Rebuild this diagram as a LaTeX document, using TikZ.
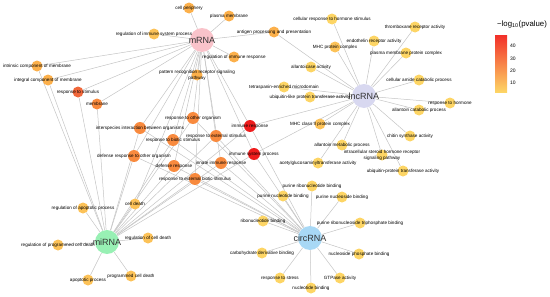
\documentclass[tikz,border=0pt]{standalone}
\usepackage{fontspec}
\setmainfont{Liberation Sans}
\usetikzlibrary{backgrounds}

\definecolor{mrnacol}{HTML}{F9C3CA}
\definecolor{lnccol}{HTML}{D8D8F0}
\definecolor{mircol}{HTML}{98F0B4}
\definecolor{circcol}{HTML}{A8D8F5}
\definecolor{ylw}{HTML}{FDD565}
\definecolor{ylo}{HTML}{FCC258}
\definecolor{lor}{HTML}{FCB04B}
\definecolor{org}{HTML}{F88A3E}
\definecolor{dor}{HTML}{F0673A}
\definecolor{rd}{HTML}{EE1C1C}
\definecolor{linkcol}{HTML}{C4C4C4}
\definecolor{lgtop}{HTML}{F2302A}

\tikzset{
  term/.style={circle, inner sep=0pt, minimum size=11pt, fill=#1},
  hub/.style={circle, inner sep=0pt, minimum size=24pt, fill=#1},
  lbl/.style={font=\fontsize{4.6}{6}\selectfont, align=center, inner sep=0pt},
  hublbl/.style={font=\fontsize{9}{10}\selectfont, text=black!80, inner sep=0pt},
  link/.style={draw=linkcol, line width=0.5pt},
  ticklbl/.style={font=\fontsize{5}{6}\selectfont, anchor=west, inner sep=0pt},
}

\begin{document}
\begin{tikzpicture}[x=1pt,y=-1pt]
\useasboundingbox (0,0) rectangle (550,297);
% hubs
\node[hub=mrnacol, label={[hublbl]center:mRNA}] (mrna) at (202,40) {};
\node[hub=lnccol, label={[hublbl]center:lncRNA}] (lnc) at (364,96) {};
\node[hub=mircol, label={[hublbl]center:miRNA}] (mir) at (107,242) {};
\node[hub=circcol, label={[hublbl]center:circRNA}] (circ) at (310,238) {};

% mRNA terms
\node[term=lor, label={[lbl]center:cell periphery}] (cp) at (189,8) {};
\node[term=lor, label={[lbl]center:plasma membrane}] (pm) at (229,16) {};
\node[term=ylo, label={[lbl]center:regulation of immune system process}] (ris) at (154,34) {};
\node[term=lor, label={[lbl]center:antigen processing and presentation}] (ap) at (274,32) {};
\node[term=lor, label={[lbl]center:regulation of immune response}] (rir) at (234,57) {};
\node[term=lor, label={[lbl]center:pattern recognition receptor signaling\\pathway}] (prr) at (197,75) {};
\node[term=lor, label={[lbl]center:intrinsic component of membrane}] (icm) at (37,66) {};
\node[term=lor, label={[lbl]center:integral component of membrane}] (igm) at (48,80) {};
\node[term=dor, label={[lbl]center:response to stimulus}] (rs) at (78,92) {};
\node[term=org, label={[lbl]center:membrane}] (mem) at (97,104) {};

% shared terms
\node[term=org, minimum size=12pt, label={[lbl]center:response to other organism}] (roo) at (193,118) {};
\node[term=org, minimum size=12pt, label={[lbl]center:interspecies interaction between organisms}] (iib) at (140,128) {};
\node[term=org, minimum size=12pt, label={[lbl]center:response to biotic stimulus}] (rbs) at (173,140) {};
\node[term=org, minimum size=12pt, label={[lbl]center:response to external stimulus}] (res) at (216,136) {};
\node[term=org, minimum size=12pt, label={[lbl]center:defense response to other organism}] (droo) at (134,156) {};
\node[term=org, minimum size=12pt, label={[lbl]center:defense response}] (dr) at (174,166) {};
\node[term=org, minimum size=12pt, label={[lbl]center:innate immune response}] (iir) at (221,163) {};
\node[term=org, minimum size=12pt, label={[lbl]center:response to external biotic stimulus}] (rebs) at (195,179) {};
\node[term=rd, minimum size=12pt, label={[lbl]center:immune response}] (ir) at (250,126) {};
\node[term=rd, minimum size=12pt, label={[lbl]center:immune system process}] (isp) at (254,154) {};

% lncRNA terms
\node[term=ylw, label={[lbl]center:cellular response to hormone stimulus}] (crh) at (332,19) {};
\node[term=ylo, label={[lbl]center:MHC protein complex}] (mhc) at (335,47) {};
\node[term=ylw, label={[lbl]center:endothelin receptor activity}] (era) at (374,41) {};
\node[term=ylw, label={[lbl]center:thromboxane receptor activity}] (tra) at (415,27) {};
\node[term=ylw, label={[lbl]center:plasma membrane protein complex}] (pmpc) at (406,53) {};
\node[term=ylw, label={[lbl]center:cellular amide catabolic process}] (cacp) at (419,80) {};
\node[term=ylw, label={[lbl]center:allantoicase activity}] (aca) at (311,67) {};
\node[term=ylw, label={[lbl]center:tetraspanin-enriched microdomain}] (tem) at (284,87) {};
\node[term=ylw, label={[lbl]center:ubiquitin-like protein transferase activity}] (ulp) at (310,97) {};
\node[term=ylw, label={[lbl]center:response to hormone}] (rh) at (450,103) {};
\node[term=ylw, label={[lbl]center:allantoin catabolic process}] (alc) at (419,110) {};
\node[term=ylw, label={[lbl]center:chitin synthase activity}] (csa) at (410,136) {};
\node[term=ylo, label={[lbl]center:MHC class II protein complex}] (mhctwo) at (320,124) {};
\node[term=ylw, label={[lbl]center:allantoin metabolic process}] (alm) at (342,145) {};
\node[term=ylw, label={[lbl]center:intracellular steroid hormone receptor\\signaling pathway}] (isr) at (382,155) {};
\node[term=ylw, label={[lbl]center:acetylglucosaminyltransferase activity}] (aga) at (318,163) {};
\node[term=ylw, label={[lbl]center:ubiquitin-protein transferase activity}] (upt) at (403,171) {};

% miRNA terms
\node[term=ylo, label={[lbl]center:regulation of apoptotic process}] (rap) at (83,208) {};
\node[term=ylo, label={[lbl]center:cell death}] (cd) at (135,204) {};
\node[term=ylo, label={[lbl]center:regulation of programmed cell death}] (rpcd) at (58,245) {};
\node[term=ylo, label={[lbl]center:regulation of cell death}] (rcd) at (148,238) {};
\node[term=ylo, label={[lbl]center:apoptotic process}] (app) at (88,280) {};
\node[term=ylo, label={[lbl]center:programmed cell death}] (pcd) at (131,276) {};

% circRNA terms
\node[term=ylw, label={[lbl]center:purine ribonucleotide binding}] (prb) at (312,186) {};
\node[term=ylw, label={[lbl]center:purine nucleotide binding}] (pnb) at (283,196) {};
\node[term=ylw, label={[lbl]center:purine nucleoside binding}] (pnsb) at (342,197) {};
\node[term=ylw, label={[lbl]center:ribonucleotide binding}] (rnb) at (263,221) {};
\node[term=ylw, label={[lbl]center:purine ribonucleoside triphosphate binding}] (prtb) at (360,223) {};
\node[term=ylw, label={[lbl]center:carbohydrate derivative binding}] (cdb) at (262,253) {};
\node[term=ylw, label={[lbl]center:nucleoside phosphate binding}] (npb) at (359,254) {};
\node[term=ylw, label={[lbl]center:response to stress}] (rst) at (280,278) {};
\node[term=ylw, label={[lbl]center:nucleotide binding}] (nb) at (311,288) {};
\node[term=ylw, label={[lbl]center:GTPase activity}] (gtp) at (340,278) {};

% links
\begin{scope}[on background layer]
\foreach \t in {cp,pm,ris,ap,rir,prr,icm,igm,rs,mem,roo,iib,rbs,res,droo,dr,iir,rebs,ir,isp,cd}
  \draw[link] (mrna) -- (\t);
\foreach \t in {ap,crh,mhc,era,tra,pmpc,cacp,aca,tem,ulp,rh,alc,csa,mhctwo,alm,isr,aga,upt,ir,isp}
  \draw[link] (lnc) -- (\t);
\foreach \t in {rap,cd,rpcd,rcd,app,pcd,icm,igm,rs,mem,roo,iib,rbs,res,droo,dr,iir,rebs,ir,isp}
  \draw[link] (mir) -- (\t);
\foreach \t in {prb,pnb,pnsb,rnb,prtb,cdb,npb,rst,nb,gtp,roo,iib,rbs,res,droo,dr,iir,rebs,ir,isp}
  \draw[link] (circ) -- (\t);
\end{scope}

% legend
\shade[top color=lgtop, middle color=org, bottom color=ylw] (495,35) rectangle (507,92);
\node[font=\fontsize{7.8}{9}\selectfont, inner sep=0pt] (lgtitle) at (522,24) {−log\textsubscript{10}(pvalue)};
\foreach \v/\y in {40/46,30/59,20/71,10/83}
  \node[ticklbl] (tick\v) at (510,\y) {\v};
\end{tikzpicture}
\end{document}
